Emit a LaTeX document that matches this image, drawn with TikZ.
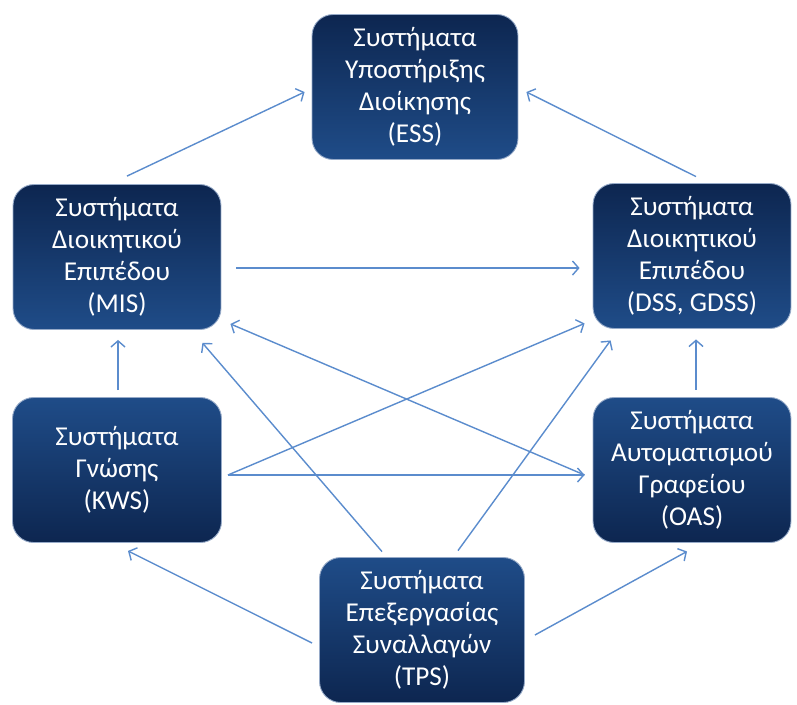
\documentclass[tikz,border=0pt]{standalone}
\usepackage{fontspec}
\setmainfont{Carlito}
\usetikzlibrary{arrows.meta}
\definecolor{boxdark}{RGB}{13,38,80}
\definecolor{boxlight}{RGB}{31,76,136}
\definecolor{boxedge}{RGB}{150,170,200}
\definecolor{arrowblue}{RGB}{91,140,205}

\begin{document}
\begin{tikzpicture}[
    x=0.02cm, y=-0.02cm,
    sysbox/.style={rectangle, rounded corners=12pt, draw=boxedge, line width=0.5pt,
                   top color=boxdark, bottom color=boxlight, text=white,
                   align=center, inner sep=2pt, minimum height=2.9cm,
                   font=\fontsize{15.5}{18.2}\selectfont},
    lighttop/.style={top color=boxlight, bottom color=boxdark},
    arr/.style={-{Straight Barb[length=3.5pt, width=8pt]}, line width=0.8pt, color=arrowblue}
]
\useasboundingbox (0,0) rectangle (797,704);

\node[sysbox, minimum width=4.12cm] (ess) at (415, 87) {Συστήματα\\Υποστήριξης\\Διοίκησης\\(ESS)};
\node[sysbox, minimum width=4.16cm] (mis) at (117, 257) {Συστήματα\\Διοικητικού\\Επιπέδου\\(MIS)};
\node[sysbox, minimum width=3.96cm] (dss) at (692, 256) {Συστήματα\\Διοικητικού\\Επιπέδου\\(DSS, GDSS)};
\node[sysbox, lighttop, minimum width=4.18cm] (kws) at (117, 470) {Συστήματα\\Γνώσης\\(KWS)};
\node[sysbox, lighttop, minimum width=3.96cm] (oas) at (692, 470) {Συστήματα\\Αυτοματισμού\\Γραφείου\\(OAS)};
\node[sysbox, lighttop, minimum width=4.1cm] (tps) at (422, 630) {Συστήματα\\Επεξεργασίας\\Συναλλαγών\\(TPS)};

% upward to ESS
\draw[arr] ([shift={(10,-8)}]mis.north) -- ([shift={(-7,5)}]ess.west);
\draw[arr] ([shift={(4,-6.5)}]dss.north) -- ([shift={(8,5)}]ess.east);

% middle level
\draw[arr] ([shift={(15,11)}]mis.east) -- ([shift={(-13,12)}]dss.west);
\draw[arr] ([shift={(1,-7)}]kws.north) -- ([shift={(1,10)}]mis.south);
\draw[arr] ([shift={(4,-7.5)}]oas.north) -- ([shift={(4,10.5)}]dss.south);
\draw[arr] ([shift={(-8,5)}]oas.west) -- ([shift={(9,-6)}]mis.south east);
\draw[arr] ([shift={(6,5)}]kws.east) -- ([shift={(-8,-5.5)}]dss.south west);
\draw[arr] ([shift={(6,5)}]kws.east) -- ([shift={(-8,5)}]oas.west);

% from TPS
\draw[arr] ([shift={(-40,-5.5)}]tps.north) -- ([shift={(-19,13)}]mis.south east);
\draw[arr] ([shift={(36,-6.5)}]tps.north) -- ([shift={(18,11.5)}]dss.south west);
\draw[arr] ([shift={(-7,13)}]tps.west) -- ([shift={(11,8)}]kws.south);
\draw[arr] ([shift={(10,5)}]tps.east) -- ([shift={(-5,8.5)}]oas.south);

\end{tikzpicture}
\end{document}
